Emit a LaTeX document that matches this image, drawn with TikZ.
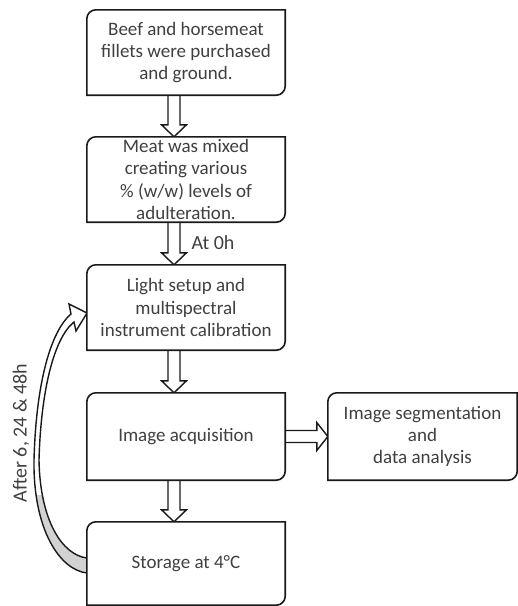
\documentclass[tikz,border=0pt]{standalone}
\usepackage{fontspec}
\setmainfont{Carlito}
\usetikzlibrary{calc}
\definecolor{txtgray}{RGB}{64,64,64}
\definecolor{linecol}{RGB}{25,25,25}
\definecolor{backgray}{RGB}{210,210,210}
\newcommand\cornerbox[1]{%
  \draw[boxline] (#1.south west) -- ([yshift=-9pt]#1.north west)
    arc[start angle=180,end angle=90,radius=9pt] -- (#1.north east)
    -- ([yshift=9pt]#1.south east)
    arc[start angle=0,end angle=-90,radius=9pt] -- cycle;}
\newcommand\vblock[2]{%
  \path let \p1=($(#1.south)+(-12pt,0)$), \p2=($(#2.north)+(-12pt,0)$) in
    [blockline] (\x1-6pt,\y1) -- (\x1-6pt,\y2+12pt) -- (\x1-12.5pt,\y2+12pt)
    -- (\x1,\y2) -- (\x1+12.5pt,\y2+12pt) -- (\x1+6pt,\y2+12pt) -- (\x1+6pt,\y1);}
\newcommand\bandpath{(87,-573) .. controls (60,-570) and (33,-530) .. (34,-460)
  .. controls (36,-385) and (50,-332) .. (71,-314) -- (69,-304) -- (87,-313)
  -- (76,-331) -- (74,-322) .. controls (54,-338) and (41,-390) .. (39,-460)
  .. controls (40,-520) and (62,-555) .. (87,-558)}
\begin{document}
\begin{tikzpicture}[x=1pt,y=1pt,
  boxline/.style={draw=linecol,line width=1.6pt,fill=white},
  blockline/.style={draw=linecol,line width=1.4pt,fill=white,line join=miter},
  stepbox/.style={minimum width=198pt,minimum height=85pt,inner sep=0pt,
    align=center,text=txtgray,font=\fontsize{19}{22.3}\selectfont},
  lbl/.style={text=txtgray,font=\fontsize{20}{24}\selectfont,inner sep=0pt}]
\useasboundingbox (0,0) rectangle (518,-606);

% curved return arrow
\fill[white] \bandpath -- cycle;
\begin{scope}
  \clip (0,-495) rectangle (100,-606);
  \fill[backgray] \bandpath -- cycle;
\end{scope}
\draw[linecol,line width=1.4pt,line join=miter] \bandpath;
\node[lbl,rotate=90] (after) at (21,-433) {After 6, 24 \& 48h};

% box positions
\coordinate (a) at (186,-52.5);
\coordinate (b) at (186,-179.5);
\coordinate (c) at (186,-307.5);
\coordinate (d) at (186,-436.5);
\coordinate (e) at (186,-563.5);
\coordinate (f) at (422.5,-436.5);

% boxes (outline drawn below, text redrawn on top)
\node[stepbox] (a) at (a) {};
\node[stepbox] (b) at (b) {};
\node[stepbox] (c) at (c) {};
\node[stepbox,minimum height=87pt] (d) at (d) {};
\node[stepbox,minimum height=83pt] (e) at (e) {};
\node[stepbox,minimum width=189pt,minimum height=87pt] (f) at (f) {};

% block arrows
\vblock{a}{b}
\vblock{b}{c}
\vblock{c}{d}
\vblock{d}{e}
\path let \p1=(d.east), \p2=(f.west) in
  [blockline] (\x1,\y1-6pt) -- (\x2-11pt,\y1-6pt) -- (\x2-11pt,\y1-14pt)
  -- (\x2,\y1) -- (\x2-11pt,\y1+14pt) -- (\x2-11pt,\y1+6pt) -- (\x1,\y1+6pt);

\node[lbl] (at0) at (213,-243) {At 0h};

% box outlines
\cornerbox{a}
\cornerbox{b}
\cornerbox{c}
\cornerbox{d}
\cornerbox{e}
\cornerbox{f}
% texts
\node[stepbox] (ta) at (a) {Beef and horsemeat\\fillets were purchased\\and ground.};
\node[stepbox] (tb) at (b) {Meat was mixed\\creating various\\\% (w/w) levels of\\adulteration.};
\node[stepbox] (tc) at (c) {Light setup and\\multispectral\\instrument calibration};
\node[stepbox,minimum height=87pt] (td) at (d) {Image acquisition};
\node[stepbox,minimum height=83pt] (te) at (e) {Storage at 4°C};
\node[stepbox,minimum width=189pt,minimum height=87pt] (tf) at (f) {Image segmentation\\and\\data analysis};
\end{tikzpicture}
\end{document}
